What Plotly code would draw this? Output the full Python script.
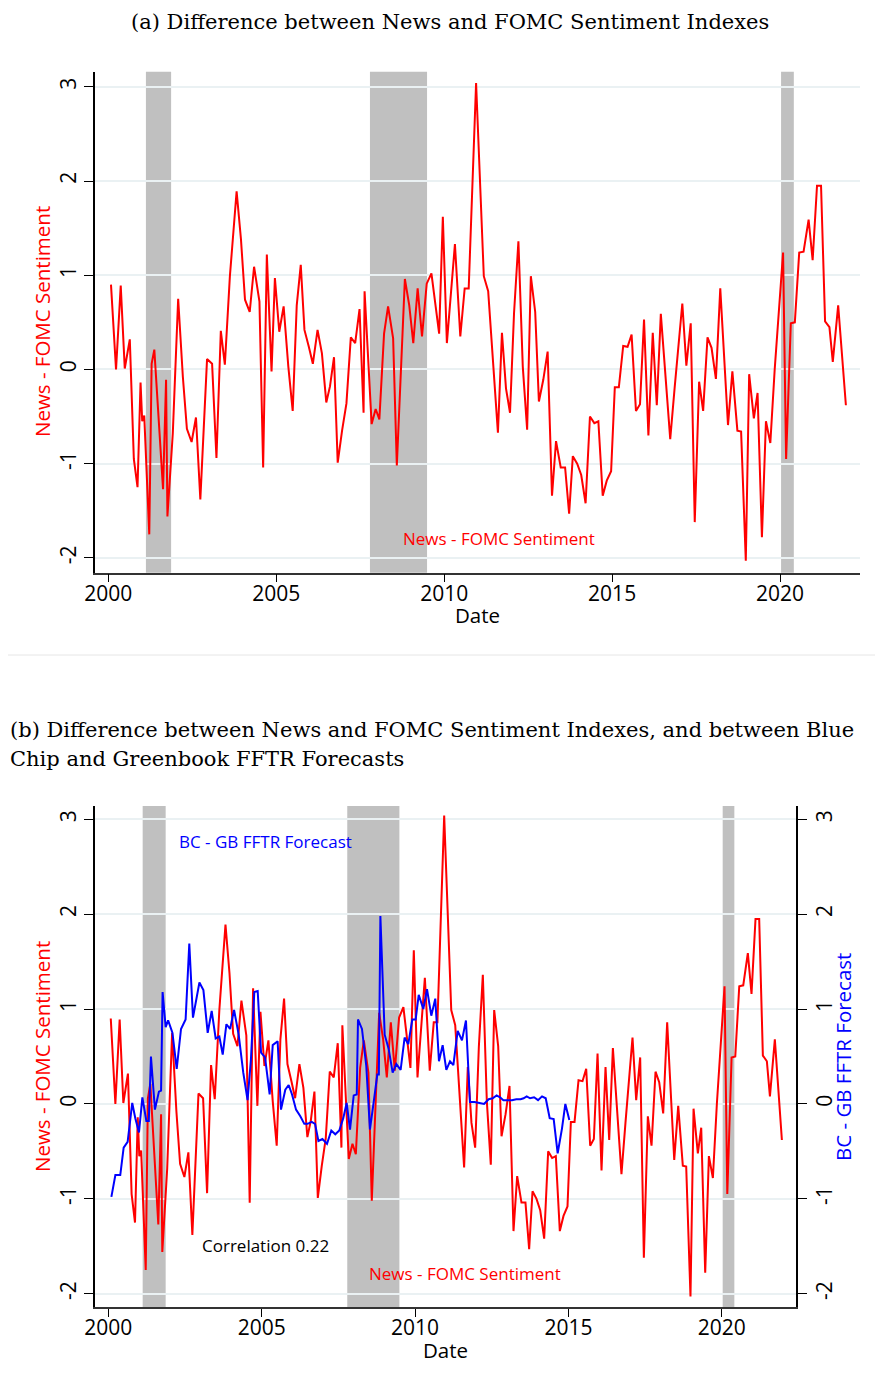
import plotly.graph_objects as go

W, H = 875, 1386

# ---------------- data ----------------
red_dates = [2000.08, 2000.23, 2000.37, 2000.49, 2000.64, 2000.76, 2000.87, 2000.96, 2001.01, 2001.07,
             2001.22, 2001.29, 2001.37, 2001.51, 2001.63, 2001.72, 2001.76, 2001.92, 2002.08, 2002.22,
             2002.34, 2002.48, 2002.61, 2002.74, 2002.94, 2003.09, 2003.22, 2003.35, 2003.47, 2003.62,
             2003.72, 2003.82, 2003.95, 2004.07, 2004.21, 2004.34, 2004.50, 2004.61, 2004.72, 2004.86,
             2004.96, 2005.09, 2005.22, 2005.36, 2005.49, 2005.61, 2005.73, 2005.84, 2005.97, 2006.09,
             2006.23, 2006.36, 2006.49, 2006.60, 2006.72, 2006.83, 2006.96, 2007.09, 2007.22, 2007.35,
             2007.48, 2007.60, 2007.63, 2007.84, 2007.96, 2008.07, 2008.21, 2008.33, 2008.48, 2008.59,
             2008.83, 2008.96, 2009.08, 2009.21, 2009.34, 2009.48, 2009.62, 2009.85, 2009.96, 2010.08,
             2010.32, 2010.48, 2010.61, 2010.73, 2010.95, 2011.18, 2011.31, 2011.60, 2011.72, 2011.84,
             2011.96, 2012.08, 2012.21, 2012.34, 2012.47, 2012.58, 2012.71, 2012.82, 2012.95, 2013.08,
             2013.21, 2013.33, 2013.47, 2013.60, 2013.72, 2013.83, 2013.96, 2014.08, 2014.21, 2014.34,
             2014.47, 2014.59, 2014.72, 2014.84, 2014.97, 2015.08, 2015.20, 2015.33, 2015.46, 2015.58,
             2015.71, 2015.83, 2015.95, 2016.08, 2016.21, 2016.33, 2016.45, 2016.73, 2016.86, 2016.97,
             2017.09, 2017.21, 2017.34, 2017.46, 2017.59, 2017.71, 2017.84, 2017.96, 2018.09, 2018.22,
             2018.34, 2018.45, 2018.58, 2018.73, 2018.84, 2018.98, 2019.08, 2019.22, 2019.33, 2019.46,
             2019.58, 2019.71, 2019.84, 2020.09, 2020.18, 2020.32, 2020.44, 2020.57, 2020.70, 2020.85,
             2020.97, 2021.10, 2021.22, 2021.34, 2021.47, 2021.57, 2021.73, 2021.96]
red_vals = [0.90, 0.00, 0.89, 0.01, 0.32, -0.95, -1.25, -0.14, -0.55, -0.49,
            -1.75, 0.06, 0.21, -0.57, -1.27, -0.11, -1.56, -0.68, 0.75, -0.08,
            -0.63, -0.77, -0.51, -1.38, 0.11, 0.06, -0.94, 0.41, 0.05, 0.99,
            1.45, 1.89, 1.38, 0.74, 0.61, 1.09, 0.72, -1.04, 1.22, -0.02,
            0.97, 0.40, 0.67, 0.03, -0.44, 0.68, 1.11, 0.42, 0.24, 0.06,
            0.42, 0.17, -0.35, -0.18, 0.13, -0.99, -0.65, -0.36, 0.34, 0.28,
            0.64, -0.46, 0.83, -0.58, -0.42, -0.53, 0.38, 0.67, 0.33, -1.02,
            0.96, 0.68, 0.28, 0.86, 0.35, 0.91, 1.02, 0.38, 1.62, 0.28,
            1.33, 0.35, 0.86, 0.86, 3.04, 0.99, 0.83, -0.67, 0.39, -0.20,
            -0.46, 0.60, 1.36, 0.03, -0.64, 0.99, 0.61, -0.34, -0.11, 0.19,
            -1.34, -0.76, -1.04, -1.04, -1.53, -0.92, -1.00, -1.12, -1.42, -0.50,
            -0.57, -0.55, -1.34, -1.18, -1.08, -0.19, -0.19, 0.25, 0.24, 0.37,
            -0.44, -0.37, 0.53, -0.70, 0.39, -0.38, 0.59, -0.74, -0.20, 0.24,
            0.70, 0.04, 0.49, -1.62, -0.13, -0.44, 0.34, 0.23, -0.10, 0.86,
            0.17, -0.59, -0.02, -0.65, -0.66, -2.03, -0.05, -0.52, -0.25, -1.78,
            -0.55, -0.78, 0.00, 1.24, -0.95, 0.49, 0.50, 1.24, 1.25, 1.59,
            1.16, 1.95, 1.95, 0.51, 0.45, 0.08, 0.68, -0.38]

blue_dates = [2000.10, 2000.23, 2000.39, 2000.50, 2000.63, 2000.78, 2000.88, 2001.00, 2001.11, 2001.24,
              2001.32, 2001.39, 2001.52, 2001.65, 2001.72, 2001.77, 2001.87, 2001.95, 2002.09, 2002.23,
              2002.37, 2002.52, 2002.64, 2002.76, 2002.97, 2003.10, 2003.24, 2003.37, 2003.50, 2003.62,
              2003.73, 2003.85, 2003.97, 2004.10, 2004.25, 2004.40, 2004.54, 2004.65, 2004.76, 2004.87,
              2004.98, 2005.11, 2005.26, 2005.36, 2005.52, 2005.63, 2005.77, 2005.88, 2005.99, 2006.12,
              2006.26, 2006.39, 2006.50, 2006.63, 2006.74, 2006.85, 2006.98, 2007.13, 2007.27, 2007.40,
              2007.53, 2007.66, 2007.77, 2007.88, 2008.00, 2008.10, 2008.14, 2008.27, 2008.41, 2008.53,
              2008.66, 2008.77, 2008.82, 2008.87, 2009.01, 2009.14, 2009.27, 2009.39, 2009.53, 2009.66,
              2009.78, 2009.91, 2010.02, 2010.12, 2010.27, 2010.39, 2010.53, 2010.66, 2010.78, 2010.90,
              2011.02, 2011.14, 2011.25, 2011.39, 2011.53, 2011.66, 2011.79, 2011.94, 2012.10, 2012.25,
              2012.40, 2012.53, 2012.66, 2012.77, 2012.88, 2013.03, 2013.16, 2013.30, 2013.44, 2013.54,
              2013.64, 2013.75, 2013.88, 2014.01, 2014.14, 2014.26, 2014.39, 2014.52, 2014.65, 2014.79,
              2014.90, 2015.03]
blue_vals = [-0.98, -0.75, -0.75, -0.46, -0.40, 0.01, -0.15, -0.30, 0.07, -0.18,
             -0.18, 0.50, -0.06, 0.13, 0.14, 1.18, 0.81, 0.88, 0.75, 0.37,
             0.79, 0.89, 1.69, 0.91, 1.28, 1.20, 0.75, 0.98, 0.69, 0.71,
             0.52, 0.84, 0.79, 0.99, 0.73, 0.33, 0.04, 0.47, 1.18, 1.19,
             0.54, 0.49, 0.10, 0.62, 0.66, -0.06, 0.15, 0.20, 0.10, -0.06,
             -0.13, -0.21, -0.21, -0.19, -0.21, -0.39, -0.37, -0.42, -0.28, -0.32,
             -0.28, -0.15, 0.01, -0.27, 0.09, 0.10, 0.89, 0.79, 0.40, -0.27,
             0.04, 0.31, 0.31, 1.98, 0.73, 0.58, 0.33, 0.42, 0.36, 0.70,
             0.63, 0.89, 0.89, 1.15, 1.00, 1.21, 0.93, 1.11, 0.45, 0.62,
             0.36, 0.45, 0.41, 0.77, 0.67, 0.88, 0.02, 0.02, 0.01, 0.00,
             0.05, 0.06, 0.09, 0.07, 0.04, 0.04, 0.04, 0.05, 0.05, 0.06,
             0.08, 0.06, 0.07, 0.04, 0.08, 0.06, -0.15, -0.16, -0.52, -0.26,
             0.00, -0.17]

recession_start = [2001.12, 2007.79, 2020.03]
recession_end = [2001.87, 2009.49, 2020.41]

x_ticks = [2000, 2005, 2010, 2015, 2020]
y_ticks = [-2, -1, 0, 1, 2, 3]

assert len(red_dates) == len(red_vals)
assert len(blue_dates) == len(blue_vals)

# ---------------- figure ----------------
RED = "#ff0000"
BLUE = "#0000ff"
GRID = "#eaf1f3"
SANS = "Open Sans"
SERIF = "DejaVu Serif"


def px_x(p):
    return p / W


def px_y(p):
    return 1 - p / H


fig = go.Figure()
fig.add_trace(go.Scatter(x=red_dates, y=red_vals, mode="lines",
                         line=dict(color=RED, width=2), xaxis="x", yaxis="y", showlegend=False))
fig.add_trace(go.Scatter(x=red_dates, y=red_vals, mode="lines",
                         line=dict(color=RED, width=2), xaxis="x2", yaxis="y2", showlegend=False))
fig.add_trace(go.Scatter(x=blue_dates, y=blue_vals, mode="lines",
                         line=dict(color=BLUE, width=2), xaxis="x2", yaxis="y3", showlegend=False))

tickfont = dict(family=SANS, size=21, color="black")
common_x = dict(tickmode="array", tickvals=x_ticks, ticktext=[str(t) for t in x_ticks],
                ticks="outside", ticklen=8, tickcolor="black", showgrid=False, zeroline=False,
                showline=True, linecolor="#333333", linewidth=1.5, tickfont=tickfont,
                ticklabelstandoff=-7, automargin=False, fixedrange=True)
common_y = dict(tickmode="array", tickvals=y_ticks, ticktext=[str(t) for t in y_ticks],
                ticks="outside", ticklen=9, tickcolor="black", zeroline=False, showline=True,
                linecolor="black", linewidth=1.5, tickangle=-90, tickfont=tickfont,
                automargin=False, fixedrange=True)

fig.update_layout(
    template="none",
    width=W, height=H, margin=dict(l=0, r=0, t=0, b=0, autoexpand=False),
    paper_bgcolor="white", plot_bgcolor="white",
    xaxis=dict(domain=[px_x(95), px_x(860)], range=[1999.604, 2022.38], anchor="y", **common_x),
    yaxis=dict(domain=[px_y(572.7), px_y(71.7)], range=[-2.157, 3.16], anchor="x",
               showgrid=True, gridcolor=GRID, gridwidth=1.5, **common_y),
    xaxis2=dict(domain=[px_x(95), px_x(796)], range=[1999.566, 2022.42], anchor="y2", **common_x),
    yaxis2=dict(domain=[px_y(1307), px_y(806)], range=[-2.14, 3.14], anchor="x2",
                showgrid=True, gridcolor=GRID, gridwidth=1.5, **common_y),
    yaxis3=dict(domain=[px_y(1307), px_y(806)], range=[-2.14, 3.14], anchor="x2",
                overlaying="y2", side="right", showgrid=False, **common_y),
)

shapes = []
for s, e in zip(recession_start, recession_end):
    for xr, yr in (("x", "y"), ("x2", "y2")):
        shapes.append(dict(type="rect", xref=xr, yref=f"{yr} domain", x0=s, x1=e, y0=0, y1=1,
                           fillcolor="#c0c0c0", line=dict(width=0), layer="below"))
shapes.append(dict(type="line", xref="paper", yref="paper", x0=px_x(8), x1=1,
                   y0=px_y(655), y1=px_y(655), line=dict(color="#e6e6e6", width=1)))
fig.update_layout(shapes=shapes)

ann = []
# panel titles
ann.append(dict(text="(a) Difference between News and FOMC Sentiment Indexes",
                x=px_x(450), y=px_y(22), xref="paper", yref="paper", showarrow=False,
                xanchor="center", yanchor="middle", font=dict(family=SERIF, size=21, color="black")))
ann.append(dict(text="(b) Difference between News and FOMC Sentiment Indexes, and between Blue",
                x=px_x(8), y=px_y(730), xref="paper", yref="paper", showarrow=False,
                xanchor="left", yanchor="middle", font=dict(family=SERIF, size=21, color="black")))
ann.append(dict(text="Chip and Greenbook FFTR Forecasts",
                x=px_x(8), y=px_y(759), xref="paper", yref="paper", showarrow=False,
                xanchor="left", yanchor="middle", font=dict(family=SERIF, size=21, color="black")))
# axis titles
for yc in (322, 1057):
    ann.append(dict(text="News - FOMC Sentiment", x=px_x(42), y=px_y(yc), xref="paper", yref="paper",
                    showarrow=False, textangle=-90, xanchor="center", yanchor="middle",
                    font=dict(family=SANS, size=20.5, color=RED)))
ann.append(dict(text="BC - GB FFTR Forecast", x=px_x(843), y=px_y(1057), xref="paper", yref="paper",
                showarrow=False, textangle=-90, xanchor="center", yanchor="middle",
                font=dict(family=SANS, size=20.5, color=BLUE)))
ann.append(dict(text="Date", x=px_x(477), y=px_y(615), xref="paper", yref="paper", showarrow=False,
                xanchor="center", yanchor="middle", font=dict(family=SANS, size=20.5, color="black")))
ann.append(dict(text="Date", x=px_x(445), y=px_y(1350), xref="paper", yref="paper", showarrow=False,
                xanchor="center", yanchor="middle", font=dict(family=SANS, size=20.5, color="black")))
# in-plot labels
ann.append(dict(text="News - FOMC Sentiment", x=px_x(499), y=px_y(539), xref="paper", yref="paper",
                showarrow=False, xanchor="center", yanchor="middle",
                font=dict(family=SANS, size=17, color=RED)))
ann.append(dict(text="News - FOMC Sentiment", x=px_x(465), y=px_y(1273), xref="paper", yref="paper",
                showarrow=False, xanchor="center", yanchor="middle",
                font=dict(family=SANS, size=17, color=RED)))
ann.append(dict(text="BC - GB FFTR Forecast", x=px_x(265), y=px_y(841), xref="paper", yref="paper",
                showarrow=False, xanchor="center", yanchor="middle",
                font=dict(family=SANS, size=17, color=BLUE)))
ann.append(dict(text="Correlation 0.22", x=px_x(265), y=px_y(1245), xref="paper", yref="paper",
                showarrow=False, xanchor="center", yanchor="middle",
                font=dict(family=SANS, size=17, color="black")))
fig.update_layout(annotations=ann)

fig.write_html("out.html")
